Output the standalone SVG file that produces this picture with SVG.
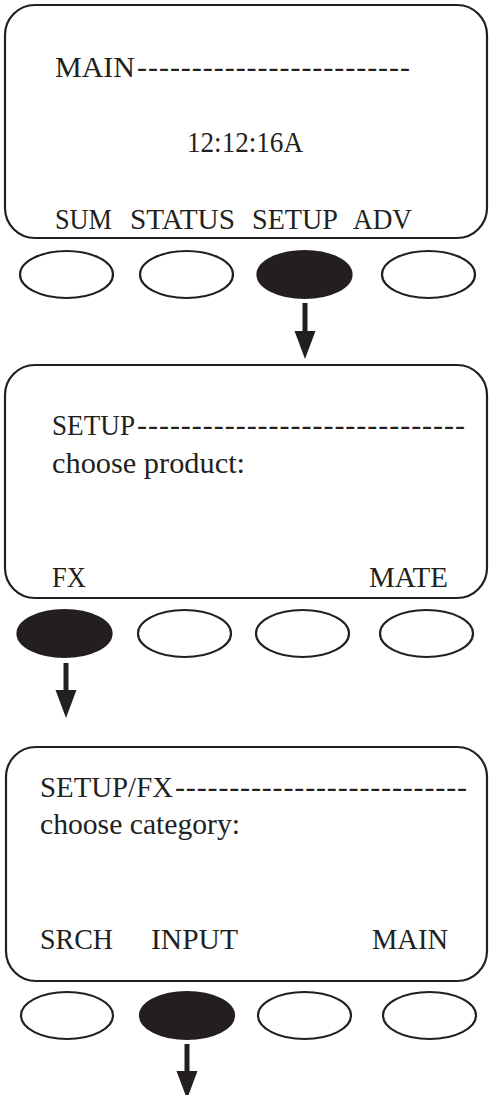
<svg xmlns="http://www.w3.org/2000/svg" width="489" height="1095" viewBox="0 0 489 1095">
<style>
.panel{fill:#fff;stroke:#231f20;stroke-width:2.2}
.btn{fill:#fff;stroke:#231f20;stroke-width:2.2}
.btn.on{fill:#231f20}
.t{font-family:"Liberation Serif","Times New Roman",serif;font-size:30px;fill:#231f20}
.shaft{stroke:#231f20;stroke-width:5;fill:none}
</style>
<defs>
<marker id="ah" markerUnits="userSpaceOnUse" viewBox="0 -11 28 22" refX="0" refY="0" markerWidth="28" markerHeight="22" orient="auto">
<path d="M0,-10.5 L28,0 L0,10.5 z" fill="#231f20"/>
</marker>
</defs>
<rect width="489" height="1095" fill="#fff"/>

<g id="screen-main">
<rect class="panel" x="5" y="5" width="482" height="233" rx="30" ry="30"/>
<text class="t" x="55" y="77" textLength="80" lengthAdjust="spacingAndGlyphs">MAIN</text>
<text class="t" x="137" y="77" textLength="273" lengthAdjust="spacing">-------------------------</text>
<text class="t" x="187" y="152" textLength="116" lengthAdjust="spacingAndGlyphs">12:12:16A</text>
<text class="t" x="55" y="229" textLength="57" lengthAdjust="spacingAndGlyphs">SUM</text>
<text class="t" x="130" y="229" textLength="105" lengthAdjust="spacingAndGlyphs">STATUS</text>
<text class="t" x="252" y="229" textLength="86" lengthAdjust="spacingAndGlyphs">SETUP</text>
<text class="t" x="353" y="229" textLength="59" lengthAdjust="spacingAndGlyphs">ADV</text>
</g>
<g id="buttons-main">
<ellipse class="btn" cx="66.5" cy="274.5" rx="46.5" ry="23.5"/>
<ellipse class="btn" cx="186.5" cy="274.5" rx="46.5" ry="23.5"/>
<ellipse class="btn on" cx="304.5" cy="274.5" rx="47" ry="23.5"/>
<ellipse class="btn" cx="428.5" cy="274.5" rx="46.5" ry="23.5"/>
</g>

<g id="screen-setup">
<rect class="panel" x="5" y="365" width="482" height="233" rx="30" ry="30"/>
<text class="t" x="52" y="435" textLength="83" lengthAdjust="spacingAndGlyphs">SETUP</text>
<text class="t" x="137" y="435" textLength="328" lengthAdjust="spacing">------------------------------</text>
<text class="t" x="52" y="473" textLength="193" lengthAdjust="spacingAndGlyphs">choose product:</text>
<text class="t" x="52" y="587" textLength="34" lengthAdjust="spacingAndGlyphs">FX</text>
<text class="t" x="369" y="587" textLength="79" lengthAdjust="spacingAndGlyphs">MATE</text>
</g>
<g id="buttons-setup">
<ellipse class="btn on" cx="64.5" cy="633.5" rx="47" ry="23.5"/>
<ellipse class="btn" cx="184.5" cy="633.5" rx="46.5" ry="23.5"/>
<ellipse class="btn" cx="302.5" cy="633.5" rx="46.5" ry="23.5"/>
<ellipse class="btn" cx="426.5" cy="633.5" rx="46.5" ry="23.5"/>
</g>

<g id="screen-setup-fx">
<rect class="panel" x="6" y="747" width="481" height="234" rx="30" ry="30"/>
<text class="t" x="40" y="797" textLength="133" lengthAdjust="spacingAndGlyphs">SETUP/FX</text>
<text class="t" x="175" y="797" textLength="292" lengthAdjust="spacing">---------------------------</text>
<text class="t" x="40" y="834" textLength="200" lengthAdjust="spacingAndGlyphs">choose category:</text>
<text class="t" x="40" y="949" textLength="73" lengthAdjust="spacingAndGlyphs">SRCH</text>
<text class="t" x="151" y="949" textLength="87" lengthAdjust="spacingAndGlyphs">INPUT</text>
<text class="t" x="372" y="949" textLength="76" lengthAdjust="spacingAndGlyphs">MAIN</text>
</g>
<g id="buttons-setup-fx">
<ellipse class="btn" cx="67" cy="1015.5" rx="46" ry="23.5"/>
<ellipse class="btn on" cx="187" cy="1015.5" rx="47" ry="23.5"/>
<ellipse class="btn" cx="304.5" cy="1015.5" rx="46.5" ry="23.5"/>
<ellipse class="btn" cx="429.5" cy="1015.5" rx="46.5" ry="23.5"/>
</g>

<g id="connectors">
<path class="shaft" d="M305,303 V331" marker-end="url(#ah)"/>
<path class="shaft" d="M66,663 V690" marker-end="url(#ah)"/>
<path class="shaft" d="M187,1044 V1071" marker-end="url(#ah)"/>
</g>
</svg>
